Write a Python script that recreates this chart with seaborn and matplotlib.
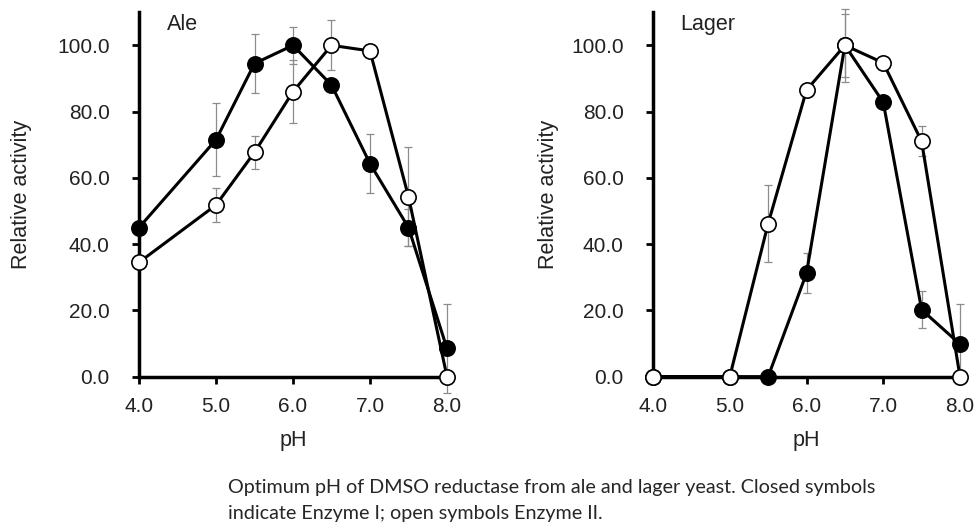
import numpy as np
import matplotlib
matplotlib.use("Agg")
import matplotlib.pyplot as plt
import seaborn as sns

ph = [4.0, 5.0, 5.5, 6.0, 6.5, 7.0, 7.5, 8.0]

# Ale
ale_e1 = [45.0, 71.5, 94.5, 100.0, 88.0, 64.3, 45.0, 8.5]
ale_e1_err = [0, 11.0, 9.0, 5.5, 0, 9.0, 5.5, 13.5]
ale_e2 = [34.5, 51.8, 67.7, 86.0, 100.0, 98.3, 54.3, 0.0]
ale_e2_err = [0, 5.0, 5.0, 9.5, 7.5, 0, 15.0, 0]

# Lager
lager_e1 = [0.0, 0.0, 0.0, 31.2, 100.0, 82.8, 20.2, 9.8]
lager_e1_err = [0, 0, 0, 6.0, 11.0, 0, 5.5, 12.0]
lager_e2 = [0.0, 0.0, 46.2, 86.5, 100.0, 94.7, 71.0, 0.0]
lager_e2_err = [0, 0, 11.7, 0, 9.5, 0, 4.5, 0]

xticks = [4.0, 5.0, 6.0, 7.0, 8.0]
yticks = [0, 20, 40, 60, 80, 100]

sns.set_style("ticks")
plt.rcParams['font.family'] = ['Liberation Sans', 'DejaVu Sans']

fig = plt.figure(figsize=(9.77, 5.29), dpi=100)
ax1 = fig.add_axes([0.1423, 0.288, 0.3152, 0.689])
ax2 = fig.add_axes([0.6684, 0.288, 0.3142, 0.689])


def panel(ax, e1, e1_err, e2, e2_err, name, ypad):
    for vals, err in [(e1, e1_err), (e2, e2_err)]:
        ax.errorbar(ph, vals, yerr=err, fmt='none', ecolor='#8c8c8c',
                    elinewidth=0.9, capsize=3, capthick=0.9, zorder=1,
                    clip_on=False)
    sns.lineplot(x=ph, y=e1, ax=ax, color='black', lw=2.2, marker='o',
                 markersize=11, markerfacecolor='black',
                 markeredgecolor='black', markeredgewidth=1.2,
                 clip_on=False, zorder=3)
    sns.lineplot(x=ph, y=e2, ax=ax, color='black', lw=2.2, marker='o',
                 markersize=11, markerfacecolor='white',
                 markeredgecolor='black', markeredgewidth=1.2,
                 clip_on=False, zorder=4)
    ax.set_xlim(4.0, 8.0)
    ax.set_ylim(0, 110)
    ax.set_xticks(xticks)
    ax.set_xticklabels([f"{t:.1f}" for t in xticks])
    ax.set_yticks(yticks)
    ax.set_yticklabels([f"{t:.1f}" for t in yticks])
    ax.tick_params(labelsize=15, labelcolor='#222222', color='black',
                   width=2, length=5)
    ax.tick_params(axis='y', pad=16)
    ax.tick_params(axis='x', pad=10)
    for s in ['top', 'right']:
        ax.spines[s].set_visible(False)
    for s in ['left', 'bottom']:
        ax.spines[s].set_linewidth(2.5)
        ax.spines[s].set_color('black')
    ax.set_xlabel("pH", fontsize=15.5, labelpad=10, color='#222222')
    ax.set_ylabel("Relative activity", fontsize=15.5, labelpad=ypad,
                  color='#222222')
    ax.text(0.09, 0.965, name, transform=ax.transAxes, fontsize=15.5,
            va='center', ha='left', color='#222222')


panel(ax1, ale_e1, ale_e1_err, ale_e2, ale_e2_err, "Ale", 18)
panel(ax2, lager_e1, lager_e1_err, lager_e2, lager_e2_err, "Lager", 9)

cap_font = ['Lato', 'DejaVu Sans']
fig.text(228 / 977, 1 - 488 / 529,
         "Optimum pH of DMSO reductase from ale and lager yeast. Closed symbols",
         fontsize=14.2, family=cap_font, va='center', ha='left')
fig.text(228 / 977, 1 - 513 / 529,
         "indicate Enzyme I; open symbols Enzyme II.",
         fontsize=14.2, family=cap_font, va='center', ha='left')

fig.savefig("out.png", dpi=100)
